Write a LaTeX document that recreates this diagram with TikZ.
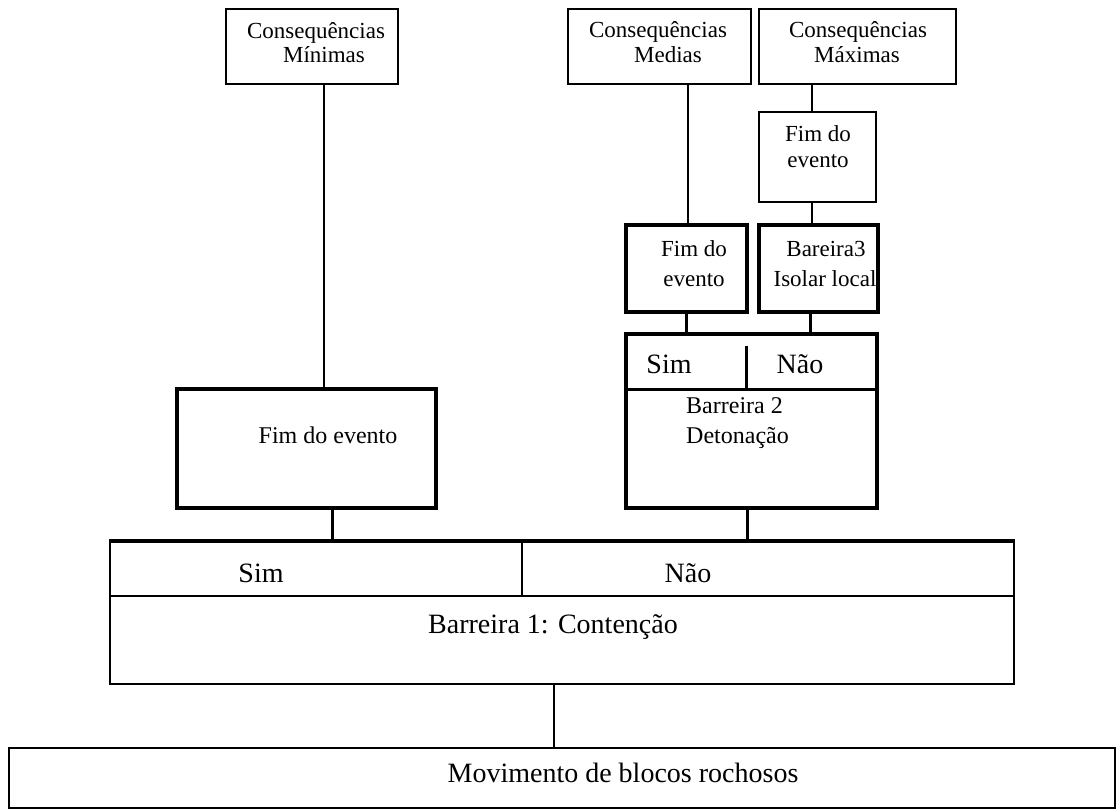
\documentclass[tikz,border=0pt]{standalone}
\usepackage{fontspec}
\setmainfont{Liberation Serif}
\begin{document}
\begin{tikzpicture}[x=1pt,y=-1pt,
  thinbox/.style={draw=black,line width=1.8pt,rectangle,inner sep=0pt},
  thickbox/.style={draw=black,line width=3.3pt,rectangle,inner sep=0pt},
  link/.style={draw=black,line width=2pt},
  boldlink/.style={draw=black,line width=3pt},
  small/.style={font=\fontsize{23}{27}\selectfont,inner sep=0pt,anchor=base},
  medium/.style={font=\fontsize{24}{28}\selectfont,inner sep=0pt,anchor=base},
  large/.style={font=\fontsize{28}{32}\selectfont,inner sep=0pt,anchor=base}]
\useasboundingbox (0,0) rectangle (1116,810);

% boxes (corners given in pixels, y downward)
\newcommand{\pbox}[6]{\node[#1,minimum width=#4-#2,minimum height=#5-#3] (#6) at ({(#2+#4)/2},{(#3+#5)/2}) {};}
\pbox{thinbox}{226}{9}{398}{84}{consMin}
\pbox{thinbox}{568}{9}{751}{84}{consMed}
\pbox{thinbox}{759}{9}{956}{84}{consMax}
\pbox{thinbox}{759}{112}{876}{202}{fimMax}
\pbox{thickbox}{626}{225}{747}{312}{fimMed}
\pbox{thickbox}{759}{225}{878}{312}{bar3}
\pbox{thickbox}{626}{334}{877}{508}{bar2}
\pbox{thickbox}{177}{389}{436}{508}{fimMin}
\pbox{thinbox}{110}{542}{1014}{684}{bar1}
\pbox{thinbox}{9}{748}{1115}{808}{mov}

% thick top edge and Sim/Não rows of the barrier boxes
\draw[line width=3.3pt] (bar1.north west) -- (bar1.north east);
\draw[line width=1.8pt] (bar1.west |- 0,596) -- (bar1.east |- 0,596);
\draw[line width=1.8pt] (522,0 |- bar1.north) -- (522,596);
\draw[line width=3pt] (bar2.west |- 0,389) -- (bar2.east |- 0,389);
\draw[line width=3pt] (746,346) -- (746,389);

% texts
\node[small] at (316,39) {Consequências};
\node[small] at (324,63) {Mínimas};
\node[small] at (658,38) {Consequências};
\node[small] at (668,63) {Medias};
\node[small] at (858,38) {Consequências};
\node[small] at (857,63) {Máximas};
\node[small] at (818,142) {Fim do};
\node[small] at (818,168) {evento};
\node[small] at (694,257) {Fim do};
\node[small] at (694,287) {evento};
\node[small] at (826,257) {Bareira3};
\node[small] at (825,287) {Isolar local};
\node[large] at (669,373) {Sim};
\node[large] at (800,373) {Não};
\node[medium,anchor=base west] at (686,413) {Barreira 2};
\node[medium,anchor=base west] at (686,443) {Detonação};
\node[medium] at (328,443) {Fim do evento};
\node[large] at (261,582) {Sim};
\node[large] at (688,582) {Não};
\node[large] at (553,633) {Barreira 1: Contenção};
\node[large] at (623,782) {Movimento de blocos rochosos};

% connectors
\draw[link] (324,0 |- consMin.south) -- (324,0 |- fimMin.north);
\draw[boldlink] (332,0 |- fimMin.south) -- (332,0 |- bar1.north);
\draw[link] (688,0 |- consMed.south) -- (688,0 |- fimMed.north);
\draw[link] (812,0 |- consMax.south) -- (812,0 |- fimMax.north);
\draw[link] (812,0 |- fimMax.south) -- (812,0 |- bar3.north);
\draw[boldlink] (686,0 |- fimMed.south) -- (686,0 |- bar2.north);
\draw[boldlink] (810,0 |- bar3.south) -- (810,0 |- bar2.north);
\draw[boldlink] (747,0 |- bar2.south) -- (747,0 |- bar1.north);
\draw[link] (554,0 |- bar1.south) -- (554,0 |- mov.north);
\end{tikzpicture}
\end{document}
